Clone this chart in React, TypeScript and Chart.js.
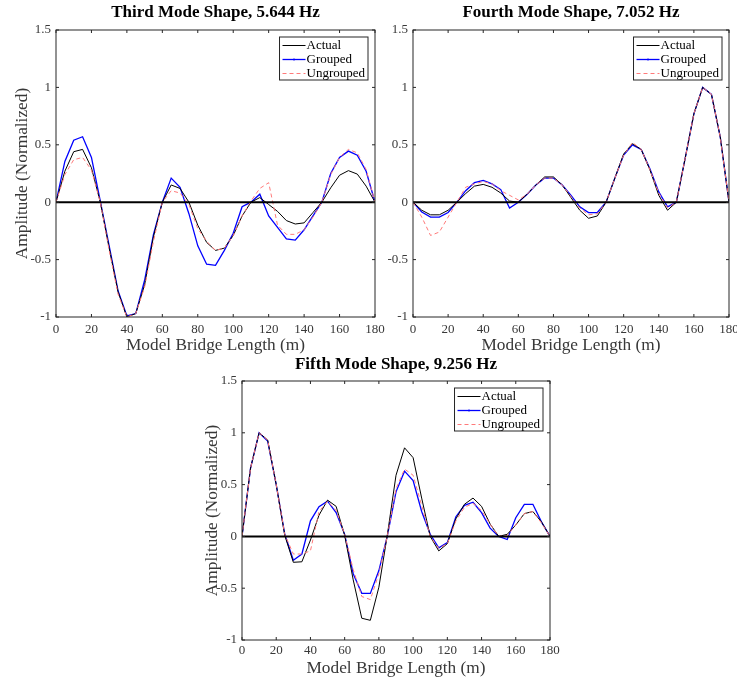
import React, { useEffect, useRef } from 'react';
import { Chart, registerables } from 'chart.js';

Chart.register(...registerables);
Chart.defaults.font.family = "'Liberation Serif', 'Times New Roman', serif";

// ---------- data ----------
const xPositions = [0, 5, 10, 15, 20, 25, 30, 35, 40, 45, 50, 55, 60, 65, 70, 75, 80, 85, 90, 95, 100, 105, 110, 115, 120, 125, 130, 135, 140, 145, 150, 155, 160, 165, 170, 175, 180];
const xTickValues = [0, 20, 40, 60, 80, 100, 120, 140, 160, 180];
const yTickValues = [-1, -0.5, 0, 0.5, 1, 1.5];
const seriesLabels = ['Actual', 'Grouped', 'Ungrouped'];

const thirdActual = [0, 0.27, 0.44, 0.46, 0.30, 0.0, -0.40, -0.78, -1.0, -0.97, -0.72, -0.30, 0.0, 0.15, 0.12, 0.0, -0.20, -0.35, -0.42, -0.40, -0.29, -0.12, 0.0, 0.04, -0.02, -0.08, -0.16, -0.19, -0.18, -0.09, 0.0, 0.125, 0.235, 0.275, 0.245, 0.14, 0];
const thirdGrouped = [0, 0.355, 0.54, 0.57, 0.39, 0.01, -0.38, -0.77, -0.99, -0.97, -0.68, -0.28, 0.0, 0.21, 0.13, -0.10, -0.38, -0.54, -0.55, -0.42, -0.27, -0.04, 0.0, 0.07, -0.12, -0.22, -0.32, -0.33, -0.24, -0.12, 0.0, 0.25, 0.39, 0.445, 0.41, 0.27, 0];
const thirdUngrouped = [0, 0.24, 0.37, 0.39, 0.28, 0.0, -0.42, -0.80, -1.0, -0.97, -0.74, -0.34, 0.0, 0.10, 0.08, -0.02, -0.23, -0.34, -0.42, -0.40, -0.29, -0.12, 0.01, 0.12, 0.17, -0.20, -0.28, -0.28, -0.24, -0.13, 0.0, 0.24, 0.39, 0.46, 0.43, 0.285, 0];

const fourthActual = [0, -0.07, -0.11, -0.11, -0.07, 0, 0.075, 0.14, 0.155, 0.13, 0.08, 0.01, 0, 0.07, 0.15, 0.22, 0.22, 0.15, 0.04, -0.07, -0.14, -0.12, 0, 0.21, 0.42, 0.51, 0.46, 0.28, 0.06, -0.07, 0, 0.38, 0.77, 1.0, 0.94, 0.57, 0];
const fourthGrouped = [0, -0.085, -0.13, -0.13, -0.09, 0, 0.10, 0.17, 0.19, 0.16, 0.11, -0.05, 0, 0.07, 0.15, 0.21, 0.21, 0.15, 0.06, -0.04, -0.09, -0.09, 0, 0.21, 0.41, 0.50, 0.46, 0.29, 0.09, -0.04, 0, 0.38, 0.77, 1.0, 0.94, 0.57, 0];
const fourthUngrouped = [0, -0.13, -0.29, -0.26, -0.13, 0, 0.13, 0.16, 0.18, 0.16, 0.10, 0.06, 0.02, 0.07, 0.15, 0.21, 0.21, 0.15, 0.05, -0.05, -0.11, -0.10, 0, 0.21, 0.41, 0.52, 0.46, 0.28, 0.08, -0.05, 0, 0.38, 0.77, 1.0, 0.94, 0.57, 0];

const fifthActual = [0, 0.66, 1.0, 0.93, 0.50, 0.01, -0.25, -0.245, -0.035, 0.205, 0.35, 0.29, 0.01, -0.42, -0.79, -0.81, -0.49, 0.02, 0.59, 0.855, 0.76, 0.37, 0.0, -0.14, -0.07, 0.17, 0.31, 0.37, 0.29, 0.12, 0.0, 0.02, 0.11, 0.22, 0.24, 0.14, 0];
const fifthGrouped = [0, 0.66, 1.0, 0.92, 0.50, 0.02, -0.23, -0.17, 0.15, 0.286, 0.34, 0.23, 0.02, -0.36, -0.55, -0.55, -0.33, 0.01, 0.43, 0.63, 0.54, 0.24, 0.02, -0.11, -0.06, 0.19, 0.30, 0.33, 0.23, 0.08, 0.0, -0.03, 0.18, 0.31, 0.31, 0.14, 0];
const fifthUngrouped = [0, 0.66, 1.0, 0.93, 0.50, 0.02, -0.17, -0.17, -0.14, 0.24, 0.34, 0.25, 0.02, -0.32, -0.58, -0.61, -0.36, 0.01, 0.46, 0.65, 0.59, 0.30, 0.0, -0.115, -0.07, 0.15, 0.28, 0.32, 0.25, 0.12, 0.0, 0.01, 0.11, 0.22, 0.24, 0.13, 0];

// ---------- styles ----------
const AXIS_COLOR = '#262626';
const TEXT_COLOR = '#383838';
const lineStyles = [
  { color: '#000000', width: 1, dash: [] as number[], order: 1, dot: false },
  { color: '#0000ff', width: 1.3, dash: [] as number[], order: 2, dot: true },
  { color: '#ff7a7a', width: 1, dash: [4, 3], order: 0, dot: false },
];

const decorPlugin = {
  id: 'modeDecor',
  afterDatasetsDraw(chart: any) {
    const { ctx, chartArea: a, scales } = chart;
    const x = scales.x;
    const y = scales.y;
    ctx.save();
    // zero line
    const y0 = y.getPixelForValue(0);
    ctx.strokeStyle = '#000';
    ctx.lineWidth = 2;
    ctx.setLineDash([]);
    ctx.beginPath();
    ctx.moveTo(a.left, y0);
    ctx.lineTo(a.right, y0);
    ctx.stroke();
    // frame
    ctx.strokeStyle = AXIS_COLOR;
    ctx.lineWidth = 1;
    ctx.strokeRect(a.left, a.top, a.right - a.left, a.bottom - a.top);
    // inward tick marks
    const tl = 3;
    ctx.beginPath();
    xTickValues.forEach((v) => {
      const px = x.getPixelForValue(v);
      ctx.moveTo(px, a.bottom);
      ctx.lineTo(px, a.bottom - tl);
      ctx.moveTo(px, a.top);
      ctx.lineTo(px, a.top + tl);
    });
    yTickValues.forEach((v) => {
      const py = y.getPixelForValue(v);
      ctx.moveTo(a.left, py);
      ctx.lineTo(a.left + tl, py);
      ctx.moveTo(a.right, py);
      ctx.lineTo(a.right - tl, py);
    });
    ctx.stroke();
    // legend
    ctx.font = "13px 'Liberation Serif', 'Times New Roman', serif";
    const ds = chart.data.datasets;
    let maxW = 0;
    ds.forEach((d: any) => { maxW = Math.max(maxW, ctx.measureText(d.label).width); });
    const w = 27 + maxW + 3;
    const h = 43;
    const right = a.right - 7;
    const left = right - w;
    const top = a.top + 7;
    ctx.fillStyle = '#ffffff';
    ctx.fillRect(left, top, w, h);
    ctx.strokeStyle = AXIS_COLOR;
    ctx.lineWidth = 1;
    ctx.strokeRect(left, top, w, h);
    ds.forEach((d: any, i: number) => {
      const ry = top + 8.5 + i * 14;
      const st = lineStyles[i];
      ctx.strokeStyle = st.color;
      ctx.lineWidth = st.width;
      ctx.setLineDash(st.dash);
      ctx.beginPath();
      ctx.moveTo(left + 3, ry);
      ctx.lineTo(left + 26, ry);
      ctx.stroke();
      ctx.setLineDash([]);
      if (st.dot) {
        ctx.fillStyle = st.color;
        ctx.beginPath();
        ctx.arc(left + 14.5, ry, 1, 0, Math.PI * 2);
        ctx.fill();
      }
      ctx.fillStyle = '#000';
      ctx.textBaseline = 'middle';
      ctx.textAlign = 'left';
      ctx.fillText(d.label, left + 27, ry + 0.5);
    });
    ctx.restore();
  },
};

type ModeProps = {
  left: number; top: number; width: number; height: number;
  title: string; titlePadTop: number; titlePadBottom: number;
  yAxisWidth: number; xAxisHeight: number; padRight: number;
  showYTitle: boolean; yTitlePad: number; xTitlePad: number; xTickPad: number;
  actual: number[]; grouped: number[]; ungrouped: number[];
};

function ModeChart(p: ModeProps) {
  const ref = useRef<HTMLCanvasElement | null>(null);
  useEffect(() => {
    if (!ref.current) return;
    const values = [p.actual, p.grouped, p.ungrouped];
    const datasets = values.map((vals, i) => ({
      label: seriesLabels[i],
      data: xPositions.map((xv, j) => ({ x: xv, y: vals[j] })),
      borderColor: lineStyles[i].color,
      backgroundColor: lineStyles[i].color,
      borderWidth: lineStyles[i].width,
      borderDash: lineStyles[i].dash,
      pointRadius: 0,
      tension: 0,
      fill: false,
      order: lineStyles[i].order,
    }));
    const chart = new Chart(ref.current, {
      type: 'line',
      data: { datasets },
      options: {
        responsive: false,
        animation: false,
        devicePixelRatio: 1,
        layout: { padding: { left: 0, right: p.padRight, top: 0, bottom: 0 } },
        plugins: {
          legend: { display: false },
          tooltip: { enabled: false },
          title: {
            display: true,
            text: p.title,
            fullSize: false,
            color: '#000',
            font: { size: 17, weight: 'bold' },
            padding: { top: p.titlePadTop, bottom: p.titlePadBottom },
          },
        },
        scales: {
          x: {
            type: 'linear',
            min: 0,
            max: 180,
            afterBuildTicks: (s: any) => { s.ticks = xTickValues.map((v) => ({ value: v })); },
            afterFit: (s: any) => { s.height = p.xAxisHeight; },
            grid: { display: false, drawTicks: false },
            border: { display: false },
            ticks: { color: TEXT_COLOR, font: { size: 13 }, padding: p.xTickPad, autoSkip: false, maxRotation: 0, callback: (v: any) => String(v) },
            title: { display: true, text: 'Model Bridge Length (m)', color: TEXT_COLOR, font: { size: 17.3 }, padding: { top: 0, bottom: p.xTitlePad } },
          },
          y: {
            type: 'linear',
            min: -1,
            max: 1.5,
            afterBuildTicks: (s: any) => { s.ticks = yTickValues.map((v) => ({ value: v })); },
            afterFit: (s: any) => { s.width = p.yAxisWidth; },
            grid: { display: false, drawTicks: false },
            border: { display: false },
            ticks: { color: TEXT_COLOR, font: { size: 13 }, padding: 5, callback: (v: any) => String(v) },
            title: { display: p.showYTitle, text: 'Amplitude (Normalized)', color: TEXT_COLOR, font: { size: 17.3 }, padding: { top: p.yTitlePad, bottom: 0 } },
          },
        },
      },
      plugins: [decorPlugin],
    } as any);
    return () => chart.destroy();
  }, []);
  return (
    <canvas
      ref={ref}
      width={p.width}
      height={p.height}
      style={{ position: 'absolute', left: p.left, top: p.top, width: p.width, height: p.height }}
    />
  );
}

export default function App() {
  return (
    <div style={{ position: 'absolute', left: 0, top: 0, width: 737, height: 678, overflow: 'hidden', background: '#ffffff' }}>
      <ModeChart
        left={0} top={0} width={400} height={360}
        title="Third Mode Shape, 5.644 Hz" titlePadTop={2.6} titlePadBottom={7.0}
        yAxisWidth={56} xAxisHeight={43} padRight={25}
        showYTitle={true} yTitlePad={11.6} xTitlePad={4} xTickPad={5}
        actual={thirdActual} grouped={thirdGrouped} ungrouped={thirdUngrouped}
      />
      <ModeChart
        left={380} top={0} width={370} height={360}
        title="Fourth Mode Shape, 7.052 Hz" titlePadTop={2.6} titlePadBottom={7.0}
        yAxisWidth={33} xAxisHeight={43} padRight={21}
        showYTitle={false} yTitlePad={0} xTitlePad={4} xTickPad={5}
        actual={fourthActual} grouped={fourthGrouped} ungrouped={fourthUngrouped}
      />
      <ModeChart
        left={190} top={345} width={380} height={333}
        title="Fifth Mode Shape, 9.256 Hz" titlePadTop={9.8} titlePadBottom={5.8}
        yAxisWidth={52} xAxisHeight={38} padRight={20}
        showYTitle={true} yTitlePad={11.6} xTitlePad={-1} xTickPad={3}
        actual={fifthActual} grouped={fifthGrouped} ungrouped={fifthUngrouped}
      />
    </div>
  );
}
